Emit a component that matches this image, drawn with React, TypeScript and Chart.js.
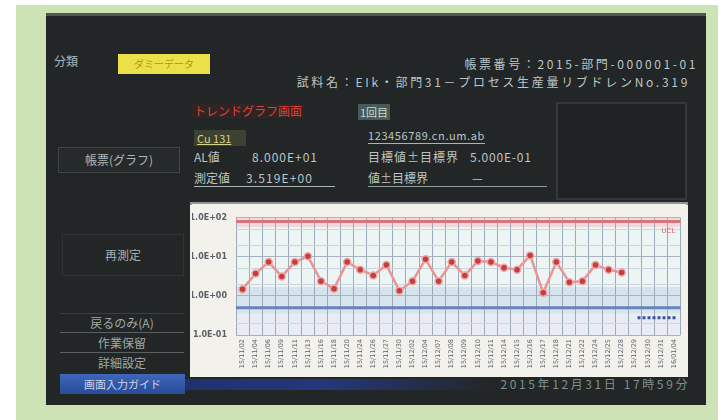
import React, { useEffect, useRef } from "react";
import { Chart, registerables } from "chart.js";

Chart.register(...registerables);

// ---- data ----
const categories: string[] = [
  "15/11/02", "15/11/04", "15/11/06", "15/11/09", "15/11/11", "15/11/13", "15/11/16",
  "15/11/18", "15/11/20", "15/11/24", "15/11/26", "15/11/27", "15/11/30", "15/12/02",
  "15/12/04", "15/12/07", "15/12/08", "15/12/09", "15/12/10", "15/12/11", "15/12/14",
  "15/12/15", "15/12/16", "15/12/17", "15/12/18", "15/12/21", "15/12/22", "15/12/24",
  "15/12/25", "15/12/28", "15/12/29", "15/12/30", "15/12/31", "16/01/04",
];
const measured: number[] = [
  1.49, 3.75, 7.37, 3.16, 7.37, 10.3, 2.39, 1.52, 7.37, 4.69,
  3.35, 6.22, 1.36, 2.39, 8.73, 2.39, 7.37, 3.35, 7.8, 7.37,
  5.26, 4.69, 10.9, 1.21, 7.37, 2.25, 2.39, 6.22, 4.69, 3.96,
];
const yGridValues: number[] = [0.1, 0.2, 0.5, 1, 2, 5, 10, 20, 50, 100];
const yLabelValues: number[] = [0.1, 1, 10, 100];
const yLabelTexts: string[] = ["1.0E-01", "1.0E+00", "1.0E+01", "1.0E+02"];
const alValue = 80; // AL値 8.000E+01
const targetValue = 0.5; // 目標値 5.000E-01
const bandFrom: number[] = [58, 1.7, 0.35, 0.1];
const bandTo: number[] = [100, 58, 1.7, 0.35];
const bandColors: string[] = ["#f2d9dc", "#ecf4f4", "#d5e4ed", "#e9ecf4"];

const JP = '"Noto Sans CJK JP", "Noto Sans", sans-serif';

const bandsPlugin = {
  id: "bands",
  beforeDraw(chart: any) {
    const { ctx, chartArea: a, scales } = chart;
    const y = scales.y;
    ctx.save();
    bandFrom.forEach((from, i) => {
      const y1 = y.getPixelForValue(bandTo[i]);
      const y2 = y.getPixelForValue(from);
      ctx.fillStyle = bandColors[i];
      ctx.fillRect(a.left, y1, a.right - a.left, y2 - y1);
    });
    ctx.restore();
  },
  beforeDatasetsDraw(chart: any) {
    const { ctx, chartArea: a, scales } = chart;
    const y = scales.y;
    ctx.save();
    const ry = y.getPixelForValue(alValue);
    ctx.strokeStyle = "#d8747c";
    ctx.lineWidth = 3;
    ctx.beginPath();
    ctx.moveTo(a.left, ry);
    ctx.lineTo(a.right, ry);
    ctx.stroke();
    ctx.fillStyle = "#d06870";
    ctx.font = "7px DejaVu Sans";
    ctx.textAlign = "right";
    ctx.fillText("UCL", a.right - 5, ry + 11);

    const by = y.getPixelForValue(targetValue);
    ctx.strokeStyle = "#6a83b8";
    ctx.lineWidth = 3;
    ctx.beginPath();
    ctx.moveTo(a.left, by);
    ctx.lineTo(a.right, by);
    ctx.stroke();
    ctx.strokeStyle = "#3a52a2";
    ctx.lineWidth = 3;
    ctx.setLineDash([3, 2]);
    ctx.beginPath();
    ctx.moveTo(a.right - 43, by + 10);
    ctx.lineTo(a.right - 5, by + 10);
    ctx.stroke();
    ctx.restore();
  },
};

function TrendChart() {
  const ref = useRef<HTMLCanvasElement | null>(null);
  useEffect(() => {
    if (!ref.current) return;
    const chart = new Chart(ref.current, {
      type: "line",
      data: {
        labels: categories,
        datasets: [
          {
            data: measured,
            borderColor: "#eb9494",
            borderWidth: 2.5,
            pointRadius: 3.5,
            pointBackgroundColor: "#c23f3f",
            pointBorderColor: "#f0a6a6",
            pointBorderWidth: 1.5,
            tension: 0,
          },
        ],
      },
      options: {
        animation: false,
        responsive: false,
        layout: { padding: { top: 8, right: 3, left: 0, bottom: 0 } },
        plugins: { legend: { display: false }, tooltip: { enabled: false } },
        scales: {
          x: {
            type: "category",
            offset: true,
            grid: { offset: true, color: "#9dabb9", drawTicks: false, lineWidth: 1 },
            border: { display: false },
            ticks: {
              autoSkip: false,
              minRotation: 90,
              maxRotation: 90,
              padding: 4,
              color: "#5b6066",
              font: { size: 6.5, family: "DejaVu Sans" },
            },
            afterFit: (s: any) => {
              s.height = 40;
            },
          },
          y: {
            type: "logarithmic",
            min: 0.1,
            max: 100,
            afterBuildTicks: (s: any) => {
              s.ticks = yGridValues.map((v) => ({ value: v }));
            },
            ticks: {
              autoSkip: false,
              padding: 9,
              color: "#5a5f64",
              font: { size: 8, weight: "bold", family: "DejaVu Sans" },
              callback: (v: any) => {
                const i = yLabelValues.indexOf(Number(v));
                return i >= 0 ? yLabelTexts[i] : "";
              },
            },
            grid: {
              drawTicks: false,
              color: (c: any) =>
                yLabelValues.indexOf(c.tick && c.tick.value) >= 0 ? "#a7b3bf" : "#cbd5de",
            },
            border: { display: false },
            afterFit: (s: any) => {
              s.width = 44;
            },
          },
        },
      },
      plugins: [bandsPlugin],
    } as any);
    return () => chart.destroy();
  }, []);
  return (
    <canvas
      ref={ref}
      width={494}
      height={171}
      style={{ position: "absolute", left: 192, top: 204, width: 494, height: 171, background: "#f3f1ec" }}
    />
  );
}

const abs = (l: number, t: number, extra: React.CSSProperties = {}): React.CSSProperties => ({
  position: "absolute",
  left: l,
  top: t,
  whiteSpace: "nowrap",
  fontFamily: JP,
  lineHeight: 1,
  ...extra,
});

export default function App() {
  const txt = "#bcc5c6";
  return (
    <div
      style={{
        position: "fixed",
        left: 0,
        top: 0,
        width: 728,
        height: 420,
        background: "#ffffff",
        overflow: "hidden",
        filter: "blur(0.45px)",
      }}
    >
      {/* green frame */}
      <div style={{ position: "absolute", left: 16, top: 5, width: 702, height: 415, background: "#cde3b5" }} />
      {/* dark screen */}
      <div
        style={{
          position: "absolute",
          left: 46,
          top: 13,
          width: 660,
          height: 392,
          background: "#232626",
          borderTop: "3px solid #525850",
          boxSizing: "border-box",
        }}
      />
      <div style={abs(54, 55, { fontSize: 12, color: "#a9b5b7" })}>分類</div>
      <div
        style={abs(118, 54, {
          width: 92,
          height: 20,
          background: "#ebe04a",
          color: "#b0961d",
          fontSize: 10,
          display: "flex",
          alignItems: "center",
          justifyContent: "center",
        })}
      >
        ダミーデータ
      </div>
      <div style={{ ...abs(0, 58, { fontSize: 12, color: txt, letterSpacing: 2.6 }), left: "auto", right: 30 }}>
        帳票番号：2015-部門-000001-01
      </div>
      <div style={{ ...abs(0, 76, { fontSize: 12, color: txt, letterSpacing: 2.7 }), left: "auto", right: 38 }}>
        試料名：EIk・部門31－プロセス生産量リブドレンNo.319
      </div>
      <div style={abs(192, 104, { fontSize: 12, color: "#d8423b", background: "#332424", padding: "1px 2px" })}>
        トレンドグラフ画面
      </div>
      <div
        style={abs(358, 104, {
          width: 32,
          height: 16,
          background: "#485c57",
          color: "#c9d5d1",
          fontSize: 11,
          display: "flex",
          alignItems: "center",
          justifyContent: "center",
        })}
      >
        1回目
      </div>
      <div
        style={abs(194, 130, {
          width: 52,
          height: 16,
          background: "#3d412f",
          color: "#d4d28a",
          fontSize: 11,
          textDecoration: "underline",
          display: "flex",
          alignItems: "center",
          paddingLeft: 3,
          boxSizing: "border-box",
        })}
      >
        Cu 131
      </div>
      <div style={abs(368, 130, { fontSize: 11, color: txt, borderBottom: "1px solid #aab3b5", paddingBottom: 2, letterSpacing: 0.6 })}>
        123456789.cn.um.ab
      </div>
      <div style={abs(194, 151, { fontSize: 12, color: txt })}>AL値</div>
      <div style={abs(252, 151, { fontSize: 12, color: txt, letterSpacing: 1 })}>8.000E+01</div>
      <div style={abs(368, 151, { fontSize: 12, color: txt, letterSpacing: 1 })}>目標値±目標界</div>
      <div style={abs(470, 151, { fontSize: 12, color: txt, letterSpacing: 0.8 })}>5.000E-01</div>
      <div style={abs(194, 172, { fontSize: 12, color: txt, borderBottom: "1px solid #aab3b5", paddingBottom: 2, width: 141 })}>
        測定値<span style={{ marginLeft: 16, letterSpacing: 1.1 }}>3.519E+00</span>
      </div>
      <div style={abs(368, 172, { fontSize: 12, color: txt, borderBottom: "1px solid #8e9799", paddingBottom: 2, width: 179 })}>
        値±目標界<span style={{ marginLeft: 44 }}>—</span>
      </div>
      {/* right empty box */}
      <div
        style={abs(556, 102, {
          width: 131,
          height: 98,
          border: "2px solid #33393b",
          background: "#1f2223",
          boxSizing: "border-box",
        })}
      />
      {/* left buttons */}
      <div
        style={abs(58, 147, {
          width: 122,
          height: 26,
          border: "1px solid #3f4646",
          background: "#272a2a",
          color: "#aeb7b7",
          fontSize: 12,
          display: "flex",
          alignItems: "center",
          justifyContent: "center",
          boxSizing: "border-box",
        })}
      >
        帳票(グラフ)
      </div>
      <div
        style={abs(62, 234, {
          width: 122,
          height: 42,
          border: "1px solid #2f3535",
          color: "#a8b2b0",
          fontSize: 12,
          display: "flex",
          alignItems: "center",
          justifyContent: "center",
          boxSizing: "border-box",
        })}
      >
        再測定
      </div>
      {["戻るのみ(A)", "作業保留", "詳細設定"].map((t, i) => (
        <div
          key={t}
          style={abs(60, 313 + i * 20, {
            width: 124,
            height: 20,
            borderBottom: i < 2 ? "1px solid #59605f" : "none",
            borderTop: i === 0 ? "1px solid #3a4040" : "none",
            color: "#9fa9a7",
            fontSize: 12,
            display: "flex",
            alignItems: "center",
            justifyContent: "center",
            boxSizing: "border-box",
          })}
        >
          {t}
        </div>
      ))}
      <div
        style={abs(60, 374, {
          width: 125,
          height: 20,
          background: "linear-gradient(#3f66b8, #284b99)",
          color: "#c7d5f0",
          fontSize: 11,
          display: "flex",
          alignItems: "center",
          justifyContent: "center",
        })}
      >
        画面入力ガイド
      </div>
      <div
        style={abs(185, 379, {
          width: 310,
          height: 11,
          background: "linear-gradient(to right, #22306e, #25377a 45%, rgba(35,38,38,0))",
        })}
      />
      <div style={{ ...abs(0, 378, { fontSize: 12, color: "#7b928e", letterSpacing: 2.6 }), left: "auto", right: 38 }}>
        2015年12月31日 17時59分
      </div>
      {/* chart panel */}
      <div
        style={{
          position: "absolute",
          left: 190,
          top: 202,
          width: 498,
          height: 175,
          background: "#f3f1ec",
          borderTop: "3px solid #8f969b",
          boxSizing: "border-box",
        }}
      />
      <TrendChart />
    </div>
  );
}
